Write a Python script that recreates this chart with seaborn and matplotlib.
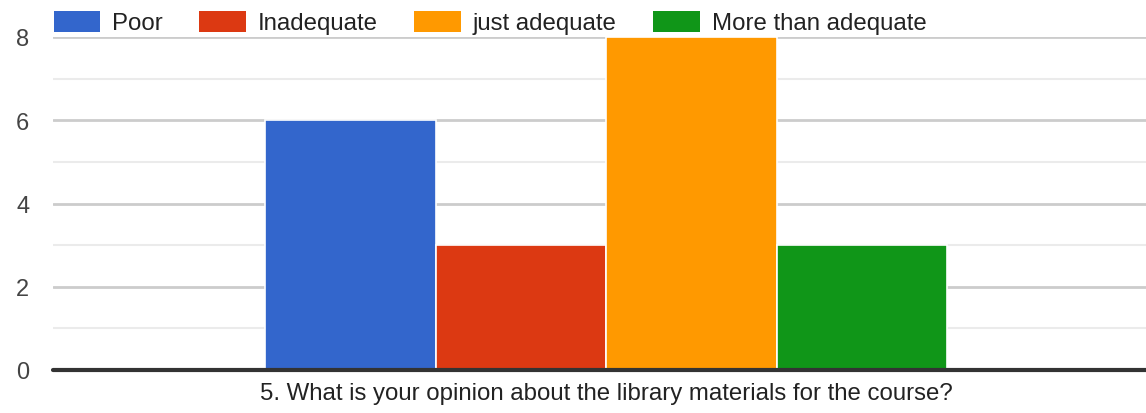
import pandas as pd
import seaborn as sns
import matplotlib.pyplot as plt
from matplotlib.patches import Patch
from matplotlib.ticker import MultipleLocator

question = "5. What is your opinion about the library materials for the course?"
categories = ["Poor", "Inadequate", "just adequate", "More than adequate"]
counts = [6, 3, 8, 3]
colors = ["#3366cc", "#dc3912", "#ff9900", "#109618"]

if __name__ == '__main__':
    df = pd.DataFrame({"question": [question] * len(categories),
                       "answer": categories, "count": counts})

    sns.set_theme(style="white")
    plt.rcParams['font.family'] = ['Liberation Sans', 'DejaVu Sans']

    fig = plt.figure(figsize=(11.46, 4.14), dpi=100)
    ax = fig.add_axes([53 / 1146, 1 - 371 / 414, 1 - 53 / 1146, (371 - 38) / 414])

    sns.barplot(data=df, x="question", y="count", hue="answer",
                hue_order=categories, palette=colors, width=0.624,
                edgecolor="white", linewidth=1.2, legend=False, ax=ax,
                saturation=1, zorder=3)

    ax.set_ylim(0, 8)
    ax.set_xlim(-0.506, 0.494)
    ax.yaxis.set_major_locator(MultipleLocator(2))
    ax.yaxis.set_minor_locator(MultipleLocator(1))
    ax.grid(axis="y", which="major", color="#cccccc", linewidth=2, zorder=0)
    ax.grid(axis="y", which="minor", color="#ebebeb", linewidth=1.5, zorder=0)
    ax.axhline(0, color="#333333", linewidth=3, zorder=4, clip_on=False)
    for s in ax.spines.values():
        s.set_visible(False)
    ax.tick_params(axis="y", which="both", length=0, pad=17, labelsize=17,
                   labelcolor="#444444")
    ax.tick_params(axis="x", length=0, pad=9, labelsize=17.3,
                   labelcolor="#222222")
    ax.set_xlabel("")
    ax.set_ylabel("")

    handles = [Patch(facecolor=c, edgecolor="none") for c in colors]
    fig.legend(handles, categories, loc="upper left", ncol=4,
               bbox_to_anchor=(32 / 1146, 1.024), frameon=False,
               fontsize=17.3, handlelength=1.95, handleheight=0.97,
               handletextpad=0.5, columnspacing=1.5, labelcolor="#222222")

    plt.savefig("out.png", dpi=100)
